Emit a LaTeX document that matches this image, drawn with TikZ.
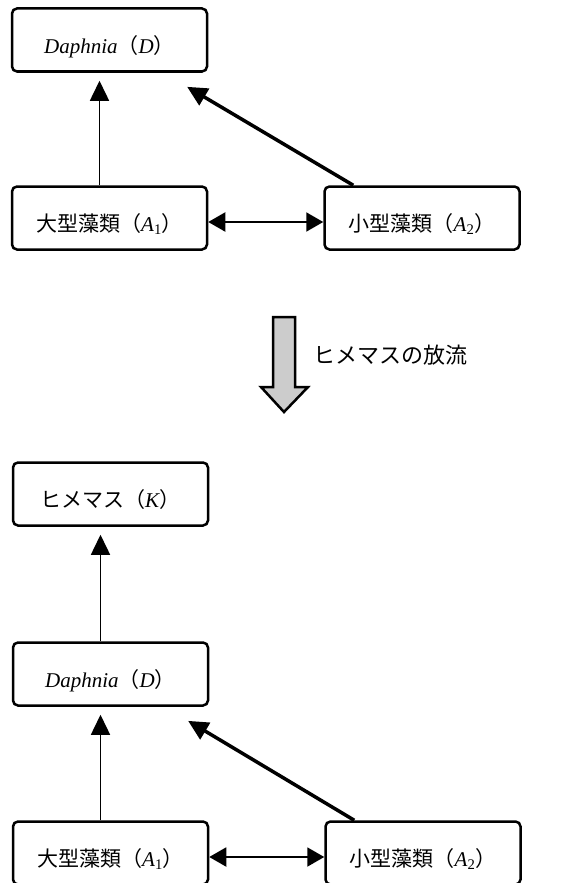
\documentclass[tikz,border=0pt]{standalone}
\usepackage{fontspec}
\setmainfont{Liberation Serif}
\newfontfamily\jp{Noto Sans CJK JP}
\usetikzlibrary{arrows.meta}
\tikzset{
  taxon/.style={draw, line width=2.5pt, rounded corners=5pt, minimum width=195pt,
    minimum height=63pt, text height=26pt, text depth=0pt, font=\fontsize{21}{25}\selectfont},
  feed/.style={-{Triangle[length=20pt,width=19pt]}, shorten >=8pt},
  both/.style={{Triangle[length=17pt,width=19pt]}-{Triangle[length=17pt,width=19pt]}, line width=2pt}
}
\newcommand{\sub}[2]{\textit{#1}\textsubscript{#2}}
\begin{document}
\begin{tikzpicture}[x=1pt,y=-1pt]
  \useasboundingbox (0,0) rectangle (571,883);
  \clip (0,0) rectangle (571,883);
  % before release
  \node[taxon] (D) at (109.5,40) {\textit{Daphnia}{\jp （}\textit{D}{\jp ）}};
  \node[taxon] (A1) at (109.5,218) {{\jp 大型藻類（}\sub{A}{1}{\jp ）}};
  \node[taxon] (A2) at (422,218) {{\jp 小型藻類（}\sub{A}{2}{\jp ）}};
  \draw[feed, line width=1.5pt] ([xshift=-10pt]A1.north) -- ([xshift=-10pt]D.south);
  \draw[feed, line width=3.5pt] ([xshift=30pt]A2.north west) -- ([xshift=-28pt,yshift=-10pt]D.south east);
  \draw[both] ([yshift=-4pt]A1.east) -- ([yshift=-4pt]A2.west);
  % release arrow
  \draw[line width=2.5pt, fill=black!20, line join=miter]
    (273,317) -- (295,317) -- (295,387) -- (308,387) -- (284,412) -- (261,387) -- (273,387) -- cycle;
  \node[anchor=west, font=\fontsize{22}{26}\selectfont\jp, inner sep=0pt] (rel) at (313,355) {ヒメマスの放流};
  % after release
  \node[taxon] (K) at (110.5,494) {{\jp ヒメマス（}\textit{K}{\jp ）}};
  \node[taxon] (D2) at (110.5,674) {\textit{Daphnia}{\jp （}\textit{D}{\jp ）}};
  \node[taxon] (B1) at (110.5,853) {{\jp 大型藻類（}\sub{A}{1}{\jp ）}};
  \node[taxon] (B2) at (423,853) {{\jp 小型藻類（}\sub{A}{2}{\jp ）}};
  \draw[feed, line width=1.5pt] ([xshift=-10pt]D2.north) -- ([xshift=-10pt]K.south);
  \draw[feed, line width=1.5pt] ([xshift=-10pt]B1.north) -- ([xshift=-10pt]D2.south);
  \draw[feed, line width=3.5pt] ([xshift=30pt]B2.north west) -- ([xshift=-28pt,yshift=-10pt]D2.south east);
  \draw[both] ([yshift=-4pt]B1.east) -- ([yshift=-4pt]B2.west);
\end{tikzpicture}
\end{document}
